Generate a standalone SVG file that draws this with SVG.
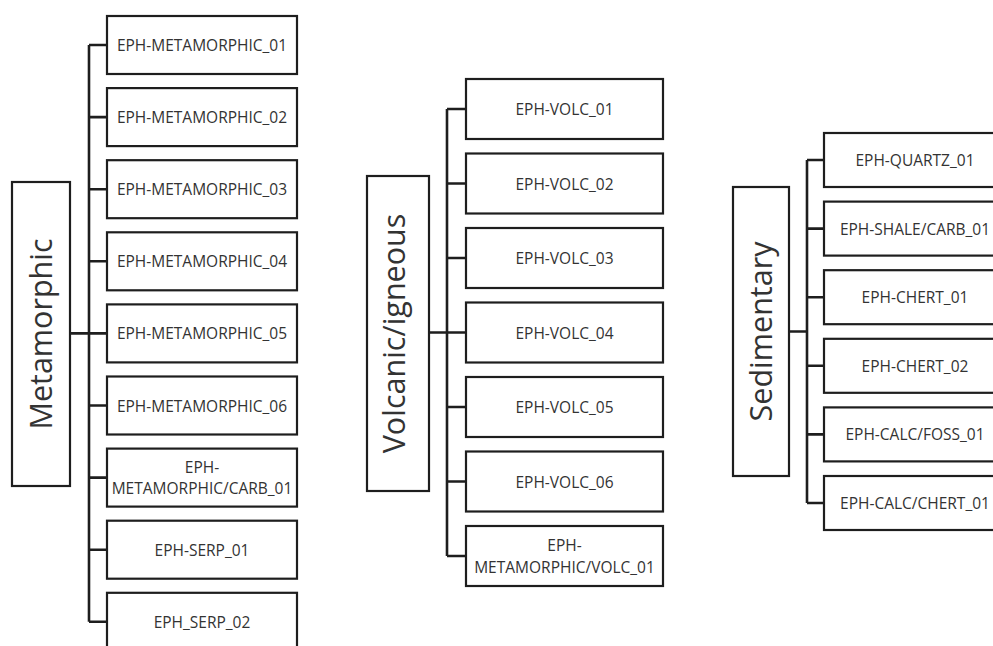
<svg xmlns="http://www.w3.org/2000/svg" width="993" height="646" viewBox="0 0 993 646">
<style>
.box{fill:#fff;stroke:#1e1e1e;stroke-width:2.2}
.lbl{fill:#fff;stroke:#1e1e1e;stroke-width:2.2}
.t{font-family:"Open Sans","Liberation Sans",sans-serif;font-size:15.5px;fill:#333;text-anchor:middle;dominant-baseline:central}
.big{font-family:"Open Sans","Liberation Sans",sans-serif;font-size:30.5px;fill:#333;text-anchor:middle}
.c{fill:none;stroke:#1e1e1e;stroke-width:2.6}
</style>
<rect width="993" height="646" fill="#fff"/>
<g id="connectors">
<path class="c" d="M70,333.4H89M89,45V621.8M89,45H107M89,117.1H107M89,189.2H107M89,261.3H107M89,333.4H107M89,405.5H107M89,477.6H107M89,549.7H107M89,621.8H107"/>
<path class="c" d="M429,332.5H447M447,109V556M447,109H466M447,183.5H466M447,258H466M447,332.5H466M447,407H466M447,481.5H466M447,556H466"/>
<path class="c" d="M789,331.5H807M807,160V503M807,160H824M807,228.6H824M807,297.2H824M807,365.8H824M807,434.4H824M807,503H824"/>
</g>
<g id="metamorphic">
<rect class="lbl" x="12" y="182" width="58" height="304"/>
<text class="big" transform="translate(52,334) rotate(-90)">Metamorphic</text>
</g>
<g id="meta01"><rect class="box" x="107" y="16" width="190" height="58"/><text class="t" x="202" y="45">EPH-METAMORPHIC_01</text></g>
<g id="meta02"><rect class="box" x="107" y="88.1" width="190" height="58"/><text class="t" x="202" y="117.1">EPH-METAMORPHIC_02</text></g>
<g id="meta03"><rect class="box" x="107" y="160.2" width="190" height="58"/><text class="t" x="202" y="189.2">EPH-METAMORPHIC_03</text></g>
<g id="meta04"><rect class="box" x="107" y="232.3" width="190" height="58"/><text class="t" x="202" y="261.3">EPH-METAMORPHIC_04</text></g>
<g id="meta05"><rect class="box" x="107" y="304.4" width="190" height="58"/><text class="t" x="202" y="333.4">EPH-METAMORPHIC_05</text></g>
<g id="meta06"><rect class="box" x="107" y="376.5" width="190" height="58"/><text class="t" x="202" y="405.5">EPH-METAMORPHIC_06</text></g>
<g id="metacarb01"><rect class="box" x="107" y="448.6" width="190" height="58"/><text class="t" x="202" y="466.8">EPH-</text><text class="t" x="202" y="488.4">METAMORPHIC/CARB_01</text></g>
<g id="serp01"><rect class="box" x="107" y="520.7" width="190" height="58"/><text class="t" x="202" y="549.7">EPH-SERP_01</text></g>
<g id="serp02"><rect class="box" x="107" y="592.8" width="190" height="58"/><text class="t" x="202" y="621.8">EPH_SERP_02</text></g>
<g id="volcanic">
<rect class="lbl" x="367" y="176" width="62" height="315"/>
<text class="big" transform="translate(405,333.5) rotate(-90)">Volcanic/igneous</text>
</g>
<g id="volc01"><rect class="box" x="466" y="79" width="197" height="60"/><text class="t" x="564.5" y="109">EPH-VOLC_01</text></g>
<g id="volc02"><rect class="box" x="466" y="153.5" width="197" height="60"/><text class="t" x="564.5" y="183.5">EPH-VOLC_02</text></g>
<g id="volc03"><rect class="box" x="466" y="228" width="197" height="60"/><text class="t" x="564.5" y="258">EPH-VOLC_03</text></g>
<g id="volc04"><rect class="box" x="466" y="302.5" width="197" height="60"/><text class="t" x="564.5" y="332.5">EPH-VOLC_04</text></g>
<g id="volc05"><rect class="box" x="466" y="377" width="197" height="60"/><text class="t" x="564.5" y="407">EPH-VOLC_05</text></g>
<g id="volc06"><rect class="box" x="466" y="451.5" width="197" height="60"/><text class="t" x="564.5" y="481.5">EPH-VOLC_06</text></g>
<g id="metavolc01"><rect class="box" x="466" y="526" width="197" height="60"/><text class="t" x="564.5" y="545.2">EPH-</text><text class="t" x="564.5" y="566.8">METAMORPHIC/VOLC_01</text></g>
<g id="sedimentary">
<rect class="lbl" x="733" y="187" width="56" height="289"/>
<text class="big" transform="translate(772,331.5) rotate(-90)">Sedimentary</text>
</g>
<g id="quartz01"><rect class="box" x="824" y="133" width="182" height="54"/><text class="t" x="915" y="160">EPH-QUARTZ_01</text></g>
<g id="shalecarb01"><rect class="box" x="824" y="201.6" width="182" height="54"/><text class="t" x="915" y="228.6">EPH-SHALE/CARB_01</text></g>
<g id="chert01"><rect class="box" x="824" y="270.2" width="182" height="54"/><text class="t" x="915" y="297.2">EPH-CHERT_01</text></g>
<g id="chert02"><rect class="box" x="824" y="338.8" width="182" height="54"/><text class="t" x="915" y="365.8">EPH-CHERT_02</text></g>
<g id="calcfoss01"><rect class="box" x="824" y="407.4" width="182" height="54"/><text class="t" x="915" y="434.4">EPH-CALC/FOSS_01</text></g>
<g id="calcchert01"><rect class="box" x="824" y="476" width="182" height="54"/><text class="t" x="915" y="503">EPH-CALC/CHERT_01</text></g>
</svg>
